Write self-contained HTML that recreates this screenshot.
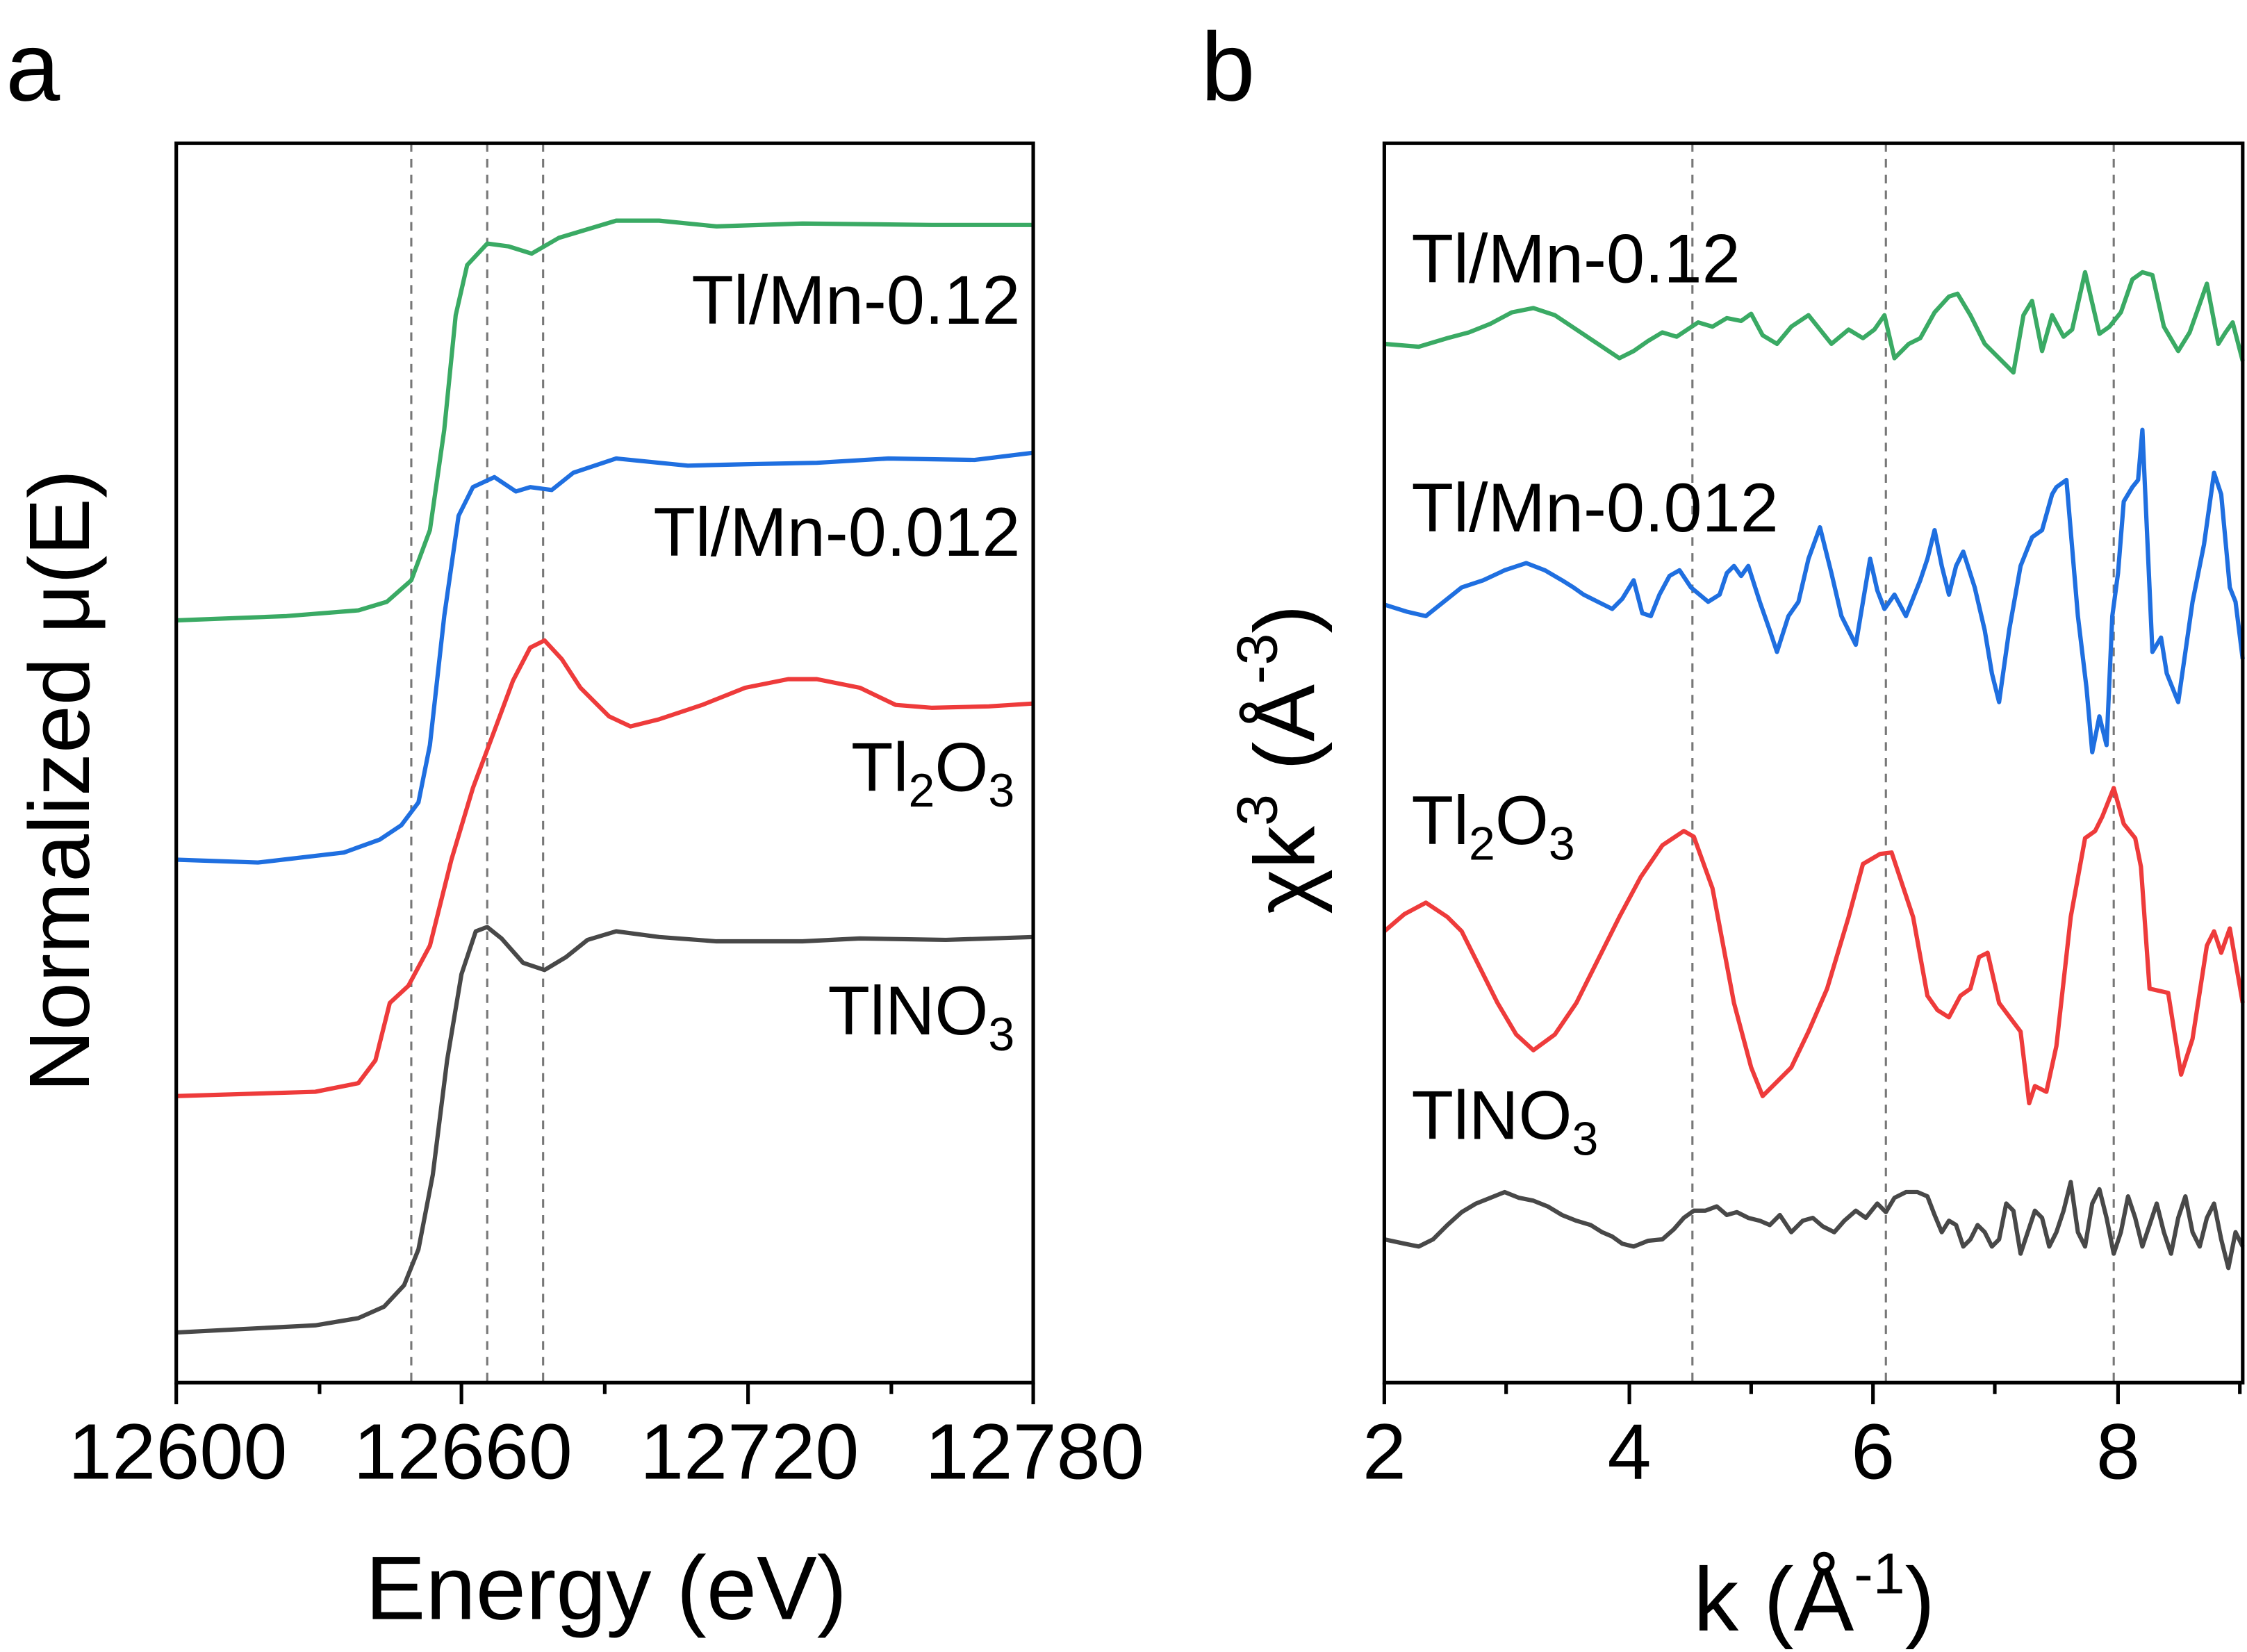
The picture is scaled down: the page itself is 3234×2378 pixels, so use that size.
<!DOCTYPE html>
<html><head><meta charset="utf-8"><style>html,body{margin:0;padding:0;background:#fff}svg{display:block}</style></head><body>
<svg width="3234" height="2378" viewBox="0 0 1568 1153" preserveAspectRatio="none" xmlns="http://www.w3.org/2000/svg" font-family="Liberation Sans, Arial, sans-serif">
<rect width="1568" height="1153" fill="#fff"/>
<g stroke="#777" stroke-width="1.5" stroke-dasharray="6,5">
<line x1="287" y1="100" x2="287" y2="965"/><line x1="340" y1="100" x2="340" y2="965"/><line x1="379" y1="100" x2="379" y2="965"/>
<line x1="1181" y1="100" x2="1181" y2="965"/><line x1="1316" y1="100" x2="1316" y2="965"/><line x1="1475" y1="100" x2="1475" y2="965"/>
</g>
<g fill="none" stroke-width="3" stroke-linejoin="round">
<polyline stroke="#3aaa64" points="123,433 200,430 250,426 270,420 287,405 300,370 310,300 318,220 326,185 340,170 355,172 371,177 390,166 410,160 430,154 460,154 500,158 560,156 650,157 721,157"/>
<polyline stroke="#1f6fe0" points="123,600 180,602 240,595 265,586 280,576 292,560 300,520 310,430 320,360 330,340 345,333 360,343 370,340 385,342 400,330 430,320 480,325 520,324 570,323 620,320 680,321 721,316"/>
<polyline stroke="#ee3b3b" points="123,765 220,762 250,756 262,740 272,700 285,688 300,660 315,600 330,550 345,510 358,475 370,452 380,447 392,460 405,480 425,500 440,507 460,502 490,492 520,480 550,474 570,474 600,480 625,492 650,494 690,493 721,491"/>
<polyline stroke="#484848" points="123,930 220,925 250,920 268,912 282,897 292,872 302,820 312,740 322,680 332,650 340,647 350,655 365,672 380,677 395,668 410,656 430,650 460,654 500,657 560,657 600,655 660,656 721,654"/>
<polyline stroke="#ee3b3b" points="966,650 980,638 995,630 1010,640 1020,650 1035,680 1045,700 1058,722 1070,733 1085,722 1100,700 1115,670 1130,640 1145,612 1160,590 1175,580 1182,584 1195,620 1210,700 1222,745 1230,765 1240,755 1250,745 1262,720 1275,690 1290,640 1300,603 1312,596 1320,595 1335,640 1345,695 1352,705 1360,710 1368,695 1375,690 1381,668 1387,665 1395,700 1410,720 1416,770 1420,758 1428,762 1435,730 1445,640 1455,585 1462,580 1467,570 1475,550 1482,575 1490,585 1494,605 1500,690 1513,693 1522,750 1530,725 1540,660 1545,650 1550,665 1556,648 1565,700"/>
<polyline stroke="#3aaa64" points="966,240 990,242 1010,236 1025,232 1040,226 1055,218 1070,215 1085,220 1100,230 1115,240 1130,250 1140,245 1150,238 1160,232 1170,235 1185,225 1195,228 1205,222 1215,224 1222,219 1230,234 1240,240 1250,228 1262,220 1270,230 1278,240 1290,230 1300,236 1308,230 1315,220 1322,250 1332,240 1340,236 1350,218 1360,207 1366,205 1375,220 1385,240 1395,250 1405,260 1412,220 1418,210 1425,245 1432,220 1440,235 1446,230 1455,190 1465,233 1472,228 1480,218 1488,195 1495,190 1502,192 1510,228 1520,245 1528,232 1540,198 1548,240 1553,232 1558,225 1565,252"/>
<polyline stroke="#1f6fe0" points="966,422 982,427 995,430 1010,418 1020,410 1035,405 1050,398 1065,393 1078,398 1090,405 1098,410 1105,415 1115,420 1125,425 1132,418 1140,405 1146,428 1152,430 1158,415 1165,402 1172,398 1180,410 1192,420 1200,415 1205,400 1210,395 1215,402 1220,395 1228,420 1235,440 1240,455 1248,430 1255,420 1262,390 1270,368 1278,400 1285,430 1295,450 1305,390 1310,412 1315,425 1322,415 1330,430 1340,405 1345,390 1350,370 1355,395 1360,415 1365,395 1370,385 1378,410 1385,440 1390,470 1395,490 1402,440 1410,395 1418,375 1425,370 1432,345 1435,340 1442,335 1450,430 1456,480 1460,525 1465,500 1470,520 1474,430 1478,400 1482,350 1488,340 1492,335 1495,300 1502,455 1508,445 1512,470 1520,490 1530,420 1538,380 1545,330 1550,345 1556,410 1560,420 1565,460"/>
<polyline stroke="#484848" points="966,865 980,868 990,870 1000,865 1010,855 1020,846 1030,840 1040,836 1050,832 1060,836 1070,838 1080,842 1090,848 1100,852 1110,855 1118,860 1125,863 1132,868 1140,870 1150,866 1160,865 1168,858 1175,850 1182,845 1190,845 1198,842 1205,848 1212,846 1220,850 1228,852 1235,855 1242,848 1250,860 1258,852 1265,850 1272,856 1280,860 1287,852 1295,845 1302,850 1310,840 1316,846 1322,836 1330,832 1338,832 1345,835 1350,848 1355,860 1360,852 1365,855 1370,870 1375,865 1380,855 1385,860 1390,870 1395,865 1400,840 1405,845 1410,875 1415,860 1420,845 1425,850 1430,870 1435,860 1440,845 1445,825 1450,860 1455,870 1460,840 1465,830 1470,850 1475,875 1480,860 1485,835 1490,850 1495,870 1500,855 1505,840 1510,860 1515,875 1520,850 1525,835 1530,860 1535,870 1540,850 1545,840 1550,865 1555,885 1560,860 1565,870"/>
</g>
<g fill="none" stroke="#000" stroke-width="2.5">
<rect x="123" y="100" width="598" height="865"/>
<rect x="966" y="100" width="599" height="865"/>
</g>
<g stroke="#000" stroke-width="2.5">
<line x1="123" y1="965" x2="123" y2="980"/><line x1="322" y1="965" x2="322" y2="980"/><line x1="522" y1="965" x2="522" y2="980"/><line x1="721" y1="965" x2="721" y2="980"/>
<line x1="223" y1="965" x2="223" y2="973"/><line x1="422" y1="965" x2="422" y2="973"/><line x1="622" y1="965" x2="622" y2="973"/>
<line x1="966" y1="965" x2="966" y2="980"/><line x1="1137" y1="965" x2="1137" y2="980"/><line x1="1307" y1="965" x2="1307" y2="980"/><line x1="1478" y1="965" x2="1478" y2="980"/>
<line x1="1051" y1="965" x2="1051" y2="973"/><line x1="1222" y1="965" x2="1222" y2="973"/><line x1="1392" y1="965" x2="1392" y2="973"/><line x1="1563" y1="965" x2="1563" y2="973"/>
</g>
<g font-size="55" fill="#000" text-anchor="middle">
<text x="124" y="1032">12600</text><text x="323" y="1032">12660</text><text x="523" y="1032">12720</text><text x="722" y="1032">12780</text>
<text x="966" y="1032">2</text><text x="1137" y="1032">4</text><text x="1307" y="1032">6</text><text x="1478" y="1032">8</text>
</g>
<g font-size="63" fill="#000">
<text x="423" y="1130" text-anchor="middle">Energy (eV)</text>
<text x="1266" y="1138" text-anchor="middle">k (Å<tspan font-size="40" dy="-26">-1</tspan><tspan dy="26">)</tspan></text>
<text transform="translate(62,545) rotate(-90)" text-anchor="middle" font-size="60">Normalized μ(E)</text>
<text transform="translate(917,530) rotate(-90)" text-anchor="middle" font-size="60">χk<tspan font-size="40" dy="-26">3</tspan><tspan dy="26"> (Å</tspan><tspan font-size="40" dy="-26">-3</tspan><tspan dy="26">)</tspan></text>
<text x="4" y="70" font-size="68">a</text>
<text x="838" y="70" font-size="68">b</text>
</g>
<g font-size="48" fill="#000">
<text x="712" y="226" text-anchor="end">Tl/Mn-0.12</text>
<text x="712" y="388" text-anchor="end">Tl/Mn-0.012</text>
<text x="708" y="552" text-anchor="end">Tl<tspan font-size="33" dy="11">2</tspan><tspan dy="-11">O</tspan><tspan font-size="33" dy="11">3</tspan></text>
<text x="708" y="722" text-anchor="end">TlNO<tspan font-size="33" dy="11">3</tspan></text>
<text x="985" y="197">Tl/Mn-0.12</text>
<text x="985" y="371">Tl/Mn-0.012</text>
<text x="985" y="589">Tl<tspan font-size="33" dy="11">2</tspan><tspan dy="-11">O</tspan><tspan font-size="33" dy="11">3</tspan></text>
<text x="985" y="795">TlNO<tspan font-size="33" dy="11">3</tspan></text>
</g>
</svg>
</body></html>
